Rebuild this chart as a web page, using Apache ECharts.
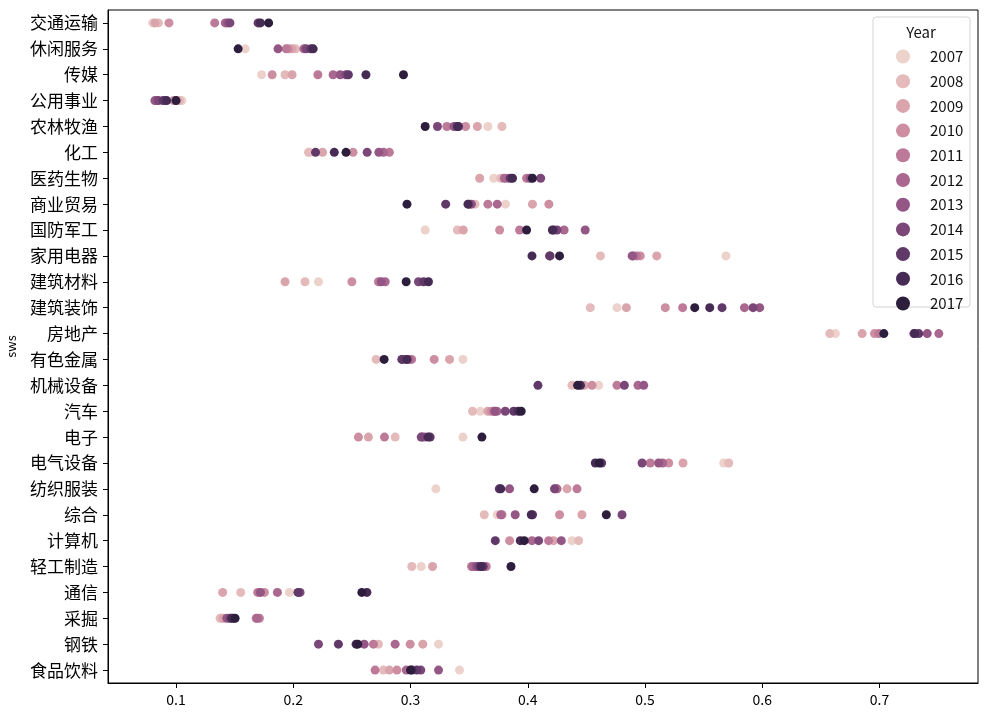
<!DOCTYPE html>
<html>
<head>
<meta charset="utf-8">
<script src="https://cdn.jsdelivr.net/npm/echarts@6/dist/echarts.min.js"></script>
<style>html,body{margin:0;padding:0;background:#fff;}#c{width:984px;height:723px;}</style>
</head>
<body>
<div id="c"></div>
<script>
const categories = ['交通运输','休闲服务','传媒','公用事业','农林牧渔','化工','医药生物','商业贸易','国防军工','家用电器','建筑材料','建筑装饰','房地产','有色金属','机械设备','汽车','电子','电气设备','纺织服装','综合','计算机','轻工制造','通信','采掘','钢铁','食品饮料'];
const years = ['2007','2008','2009','2010','2011','2012','2013','2014','2015','2016','2017'];
const xTicks = [0.1,0.2,0.3,0.4,0.5,0.6,0.7];

const y2007 = [0.080,0.159,0.173,0.105,0.366,0.214,0.371,0.381,0.3125,0.569,0.2215,0.4761,0.6624,0.3447,0.4605,0.3595,0.3447,0.5671,0.3216,0.374,0.4377,0.3091,0.1967,0.139,0.3239,0.3418];
const y2008 = [0.085,0.202,0.193,0.103,0.378,0.213,0.377,0.355,0.340,0.462,0.210,0.4533,0.6576,0.2707,0.4377,0.3529,0.2869,0.5714,0.4249,0.3629,0.4434,0.3011,0.1552,0.1376,0.2727,0.2769];
const y2009 = [0.082,0.199,0.199,0.101,0.357,0.225,0.359,0.404,0.345,0.510,0.193,0.4841,0.6852,0.3333,0.4482,0.366,0.2641,0.5324,0.4335,0.4462,0.422,0.3188,0.1398,0.140,0.3105,0.282];
const y2010 = [0.094,0.196,0.182,0.098,0.347,0.251,0.382,0.418,0.376,0.496,0.250,0.5173,0.6957,0.3202,0.4548,0.369,0.2556,0.5202,0.4229,0.4271,0.3845,0.352,0.1754,0.1683,0.2997,0.2884];
const y2011 = [0.133,0.194,0.221,0.090,0.331,0.282,0.399,0.366,0.393,0.493,0.2727,0.5321,0.6994,0.301,0.4761,0.371,0.2778,0.5045,0.442,0.378,0.4178,0.3646,0.1697,0.1711,0.2684,0.2698];
const y2012 = [0.142,0.209,0.234,0.083,0.339,0.277,0.380,0.374,0.431,0.490,0.2784,0.5848,0.7506,0.299,0.494,0.3737,0.312,0.515,0.4249,0.377,0.4036,0.353,0.1865,0.169,0.2869,0.2963];
const y2013 = [0.144,0.187,0.240,0.082,0.337,0.273,0.402,0.352,0.449,0.489,0.275,0.5978,0.7407,0.296,0.4989,0.372,0.310,0.5116,0.3845,0.3893,0.4286,0.356,0.172,0.1433,0.2605,0.3239];
const y2014 = [0.146,0.211,0.245,0.085,0.323,0.263,0.411,0.350,0.425,0.4186,0.3068,0.5922,0.7293,0.293,0.4824,0.3808,0.3091,0.4975,0.4229,0.4804,0.4093,0.358,0.2058,0.146,0.2215,0.3088];
const y2015 = [0.170,0.215,0.247,0.089,0.341,0.219,0.385,0.330,0.422,0.419,0.3111,0.5657,0.7335,0.2926,0.4087,0.388,0.3168,0.463,0.3757,0.4041,0.3723,0.362,0.204,0.1489,0.2385,0.3054];
const y2016 = [0.172,0.217,0.262,0.092,0.340,0.235,0.387,0.349,0.421,0.4036,0.3153,0.5552,0.730,0.297,0.445,0.392,0.315,0.4576,0.377,0.403,0.3936,0.360,0.2628,0.1475,0.2536,0.3012];
const y2017 = [0.179,0.153,0.294,0.100,0.3125,0.245,0.404,0.297,0.399,0.4271,0.2963,0.5424,0.7037,0.2775,0.4425,0.3944,0.3609,0.461,0.4055,0.467,0.397,0.3857,0.2585,0.1504,0.255,0.300];

const valuesByYear = [y2007,y2008,y2009,y2010,y2011,y2012,y2013,y2014,y2015,y2016,y2017];

// seaborn default cubehelix colormap (start=0, rot=.4, light=.85, dark=.15)
function cubehelix(x){
  const hue = 0.8, start = 0, rot = 0.4;
  const a = hue * x * (1 - x) / 2;
  const phi = 2 * Math.PI * (start / 3 + rot * x);
  const c = Math.cos(phi), s = Math.sin(phi);
  const r = x + a * (-0.14861 * c + 1.78277 * s);
  const g = x + a * (-0.29227 * c - 0.90649 * s);
  const b = x + a * (1.97294 * c);
  const cl = v => Math.round(Math.max(0, Math.min(1, v)) * 255);
  return 'rgb(' + cl(r) + ',' + cl(g) + ',' + cl(b) + ')';
}
const colors = years.map((y, i) => cubehelix(0.85 - 0.7 * i / (years.length - 1)));

const FONT = '"Noto Sans CJK SC", "Noto Sans", sans-serif';
const chart = echarts.init(document.getElementById('c'), null, {renderer: 'canvas'});
const series = years.map((y, i) => ({
  name: y,
  type: 'scatter',
  symbol: 'circle',
  symbolSize: 9,
  itemStyle: {color: colors[i], opacity: 1},
  emphasis: {disabled: true},
  data: categories.map((c, k) => [valuesByYear[i][k], c])
}));

chart.setOption({
  animation: false,
  color: colors,
  grid: {left: 108, right: 6, top: 10, bottom: 40, containLabel: false, outerBoundsMode: 'none', show: true, borderColor: '#000', borderWidth: 1, backgroundColor: 'transparent'},
  xAxis: {
    type: 'value', min: 0.042, max: 0.784, scale: true,
    splitLine: {show: false},
    axisLine: {show: true, lineStyle: {color: '#000'}},
    axisTick: {show: true, length: 5, lineStyle: {color: '#000'}, customValues: xTicks},
    axisLabel: {color: '#000', fontSize: 14, fontFamily: FONT, margin: 10, customValues: xTicks, formatter: v => v.toFixed(1)}
  },
  yAxis: {
    type: 'category', data: categories, inverse: true,
    name: 'sws', nameLocation: 'middle', nameGap: 90, nameRotate: 90,
    nameTextStyle: {color: '#000', fontSize: 13, fontFamily: FONT},
    axisLine: {show: true, lineStyle: {color: '#000'}},
    axisTick: {show: true, length: 5, alignWithLabel: true, lineStyle: {color: '#000'}},
    axisLabel: {color: '#000', fontSize: 17, fontFamily: FONT, margin: 10},
    splitLine: {show: false}
  },
  legend: {
    data: years, orient: 'vertical', left: 896, top: 49, padding: 0,
    icon: 'circle', itemWidth: 14, itemHeight: 14, itemGap: 9.7,
    selectedMode: false,
    textStyle: {color: '#111', fontSize: 15, fontFamily: FONT, padding: [0, 0, 0, 15]}
  },
  graphic: [
    {type: 'rect', x: 873, y: 17, z: 0, shape: {width: 97, height: 290, r: 3}, style: {fill: 'rgba(255,255,255,0.85)', stroke: '#d3d3d3', lineWidth: 1}},
    {type: 'text', x: 921, y: 32, z: 1, style: {text: 'Year', textAlign: 'center', textVerticalAlign: 'middle', fontSize: 15, fontFamily: FONT, fill: '#111'}}
  ],
  series: series
});
</script>
</body>
</html>
